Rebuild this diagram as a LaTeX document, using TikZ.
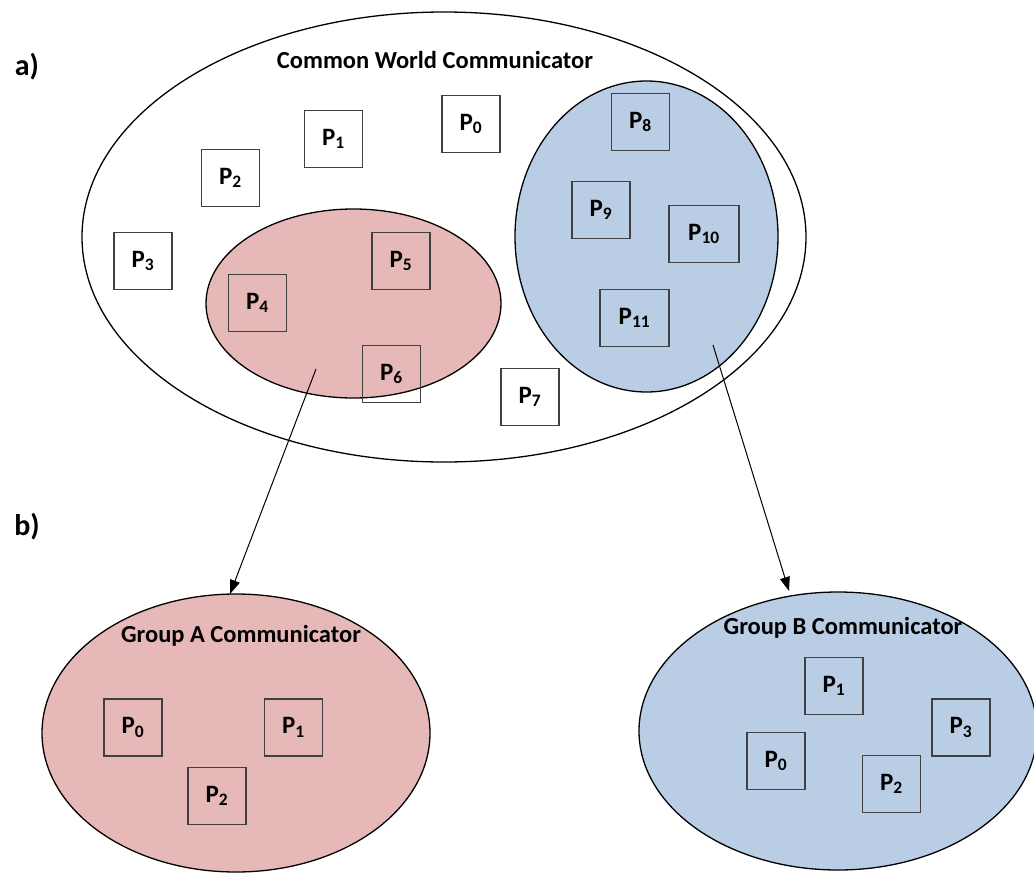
\documentclass[tikz,border=0pt]{standalone}
\usepackage{fontspec}
\setmainfont{Carlito}
\usetikzlibrary{shapes.geometric,arrows.meta}
\definecolor{redfill}{HTML}{E6B8B7}
\definecolor{bluefill}{HTML}{B9CDE5}
\definecolor{boxline}{HTML}{404040}
\tikzset{
  comm/.style={ellipse, draw=black, line width=1.3pt, inner sep=0pt},
  pbox/.style={draw=boxline, line width=1.1pt, minimum width=58pt, minimum height=57pt, inner sep=0pt,
    font=\fontsize{25}{28}\selectfont\bfseries},
  ttl/.style={font=\fontsize{24.5}{28}\selectfont\bfseries, inner sep=0pt},
  lbl/.style={font=\fontsize{30}{34}\selectfont\bfseries, inner sep=0pt},
  arr/.style={-{Triangle[length=14pt,width=10pt]}, line width=1pt}
}
\begin{document}
\begin{tikzpicture}[x=1pt,y=-1pt]
\useasboundingbox (0,0) rectangle (1034,873);
% ellipses
\node[comm, fill=white, minimum width=724pt, minimum height=450pt] (world) at (444,237) {};
\node[comm, fill=bluefill, minimum width=263pt, minimum height=311pt] (blue) at (646.5,236.5) {};
\node[comm, fill=redfill, minimum width=295pt, minimum height=189pt] (red) at (353.5,303.5) {};
\node[comm, fill=redfill, minimum width=388pt, minimum height=278pt] (ga) at (236,733) {};
\node[comm, fill=bluefill, minimum width=398pt, minimum height=278pt] (gb) at (838,731) {};
% labels
\node[lbl] (la) at (27,67) {a)};
\node[lbl] (lb) at (27,527) {b)};
\node[ttl] (tw) at (435,60) {Common World Communicator};
\node[ttl] (ta) at (241,636) {Group A Communicator};
\node[ttl] (tb) at (843,628) {Group B Communicator};
% world boxes
\node[pbox] (w0) at (471,124) {P\textsubscript{0}};
\node[pbox] (w1) at (333.5,139) {P\textsubscript{1}};
\node[pbox] (w2) at (230.5,178) {P\textsubscript{2}};
\node[pbox] (w3) at (143,261) {P\textsubscript{3}};
\node[pbox] (w4) at (257.5,303) {P\textsubscript{4}};
\node[pbox] (w5) at (401,261) {P\textsubscript{5}};
\node[pbox] (w6) at (391.5,374) {P\textsubscript{6}};
\node[pbox] (w7) at (530,397) {P\textsubscript{7}};
\node[pbox] (w8) at (640.5,122) {P\textsubscript{8}};
\node[pbox] (w9) at (601,210) {P\textsubscript{9}};
\node[pbox, minimum width=70pt] (w10) at (704,234) {P\textsubscript{10}};
\node[pbox, minimum width=69pt] (w11) at (634.5,318) {P\textsubscript{11}};
% group A
\node[pbox] (a0) at (133,727.5) {P\textsubscript{0}};
\node[pbox] (a1) at (293.5,727.5) {P\textsubscript{1}};
\node[pbox] (a2) at (217,796) {P\textsubscript{2}};
% group B
\node[pbox] (b1) at (834,686) {P\textsubscript{1}};
\node[pbox] (b3) at (961,727.5) {P\textsubscript{3}};
\node[pbox] (b0) at (776,761) {P\textsubscript{0}};
\node[pbox] (b2) at (891.5,784) {P\textsubscript{2}};
% arrows
\coordinate (sa) at (316,369);
\coordinate (ea) at (230,594);
\coordinate (sb) at (713,345);
\coordinate (eb) at (789,591);
\draw[arr] (sa) -- (ea);
\draw[arr] (sb) -- (eb);
\end{tikzpicture}
\end{document}
